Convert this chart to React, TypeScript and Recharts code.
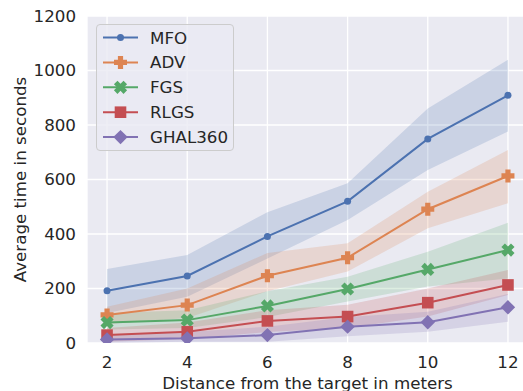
import React from 'react';
import { ComposedChart, Line, Area, XAxis, YAxis, CartesianGrid } from 'recharts';

const distances = [2, 4, 6, 8, 10, 12];
const xTicks = [2, 4, 6, 8, 10, 12];
const yTicks = [0, 200, 400, 600, 800, 1000, 1200];

const mfo = [192, 246, 391, 520, 749, 909];
const mfoLow = [110, 170, 310, 451, 635, 776];
const mfoHigh = [272, 323, 480, 586, 861, 1039];

const adv = [103, 139, 247, 313, 491, 613];
const advLow = [70, 92, 190, 262, 421, 513];
const advHigh = [133, 200, 330, 366, 555, 708];

const fgs = [75, 84, 136, 198, 270, 341];
const fgsLow = [50, 55, 95, 152, 207, 237];
const fgsHigh = [110, 120, 190, 243, 335, 441];

const rlgs = [29, 41, 81, 97, 148, 213];
const rlgsLow = [5, 15, 40, 55, 97, 176];
const rlgsHigh = [55, 75, 120, 140, 200, 268];

const ghal = [13, 17, 29, 60, 76, 131];
const ghalLow = [0, 5, 5, 25, 41, 78];
const ghalHigh = [30, 40, 60, 95, 115, 180];

const seriesDefs = [
  { key: 'MFO', values: mfo, low: mfoLow, high: mfoHigh, color: '#4c72b0', marker: 'circle' },
  { key: 'ADV', values: adv, low: advLow, high: advHigh, color: '#dd8452', marker: 'plus' },
  { key: 'FGS', values: fgs, low: fgsLow, high: fgsHigh, color: '#55a868', marker: 'x' },
  { key: 'RLGS', values: rlgs, low: rlgsLow, high: rlgsHigh, color: '#c44e52', marker: 'square' },
  { key: 'GHAL360', values: ghal, low: ghalLow, high: ghalHigh, color: '#8172b3', marker: 'diamond' },
];

const data = distances.map((d, i) => {
  const row: any = { x: d };
  seriesDefs.forEach((s) => {
    row[s.key] = s.values[i];
    row[s.key + '_band'] = [s.low[i], s.high[i]];
  });
  return row;
});

function markerShape(type: string, cx: number, cy: number, color: string, key?: any) {
  if (type === 'circle') {
    return <circle key={key} cx={cx} cy={cy} r={3.5} fill={color} />;
  }
  if (type === 'plus') {
    const a = 6.5, t = 2.6;
    const d = `M${cx - t},${cy - a}H${cx + t}V${cy - t}H${cx + a}V${cy + t}H${cx + t}V${cy + a}H${cx - t}V${cy + t}H${cx - a}V${cy - t}H${cx - t}Z`;
    return <path key={key} d={d} fill={color} />;
  }
  if (type === 'x') {
    const a = 6.8, t = 2.5;
    const pts = [
      [-t, -a], [t, -a], [t, -t], [a, -t], [a, t], [t, t], [t, a], [-t, a], [-t, t], [-a, t], [-a, -t], [-t, -t],
    ];
    const c = Math.cos(Math.PI / 4), s = Math.sin(Math.PI / 4);
    const d = pts
      .map(([px, py], i) => `${i === 0 ? 'M' : 'L'}${cx + px * c - py * s},${cy + px * s + py * c}`)
      .join('') + 'Z';
    return <path key={key} d={d} fill={color} />;
  }
  if (type === 'square') {
    const h = 5.8;
    return <rect key={key} x={cx - h} y={cy - h} width={2 * h} height={2 * h} fill={color} />;
  }
  const h = 7.2;
  const d = `M${cx},${cy - h}L${cx + h},${cy}L${cx},${cy + h}L${cx - h},${cy}Z`;
  return <path key={key} d={d} fill={color} />;
}

const font = '"DejaVu Sans", sans-serif';
const textColor = '#262626';
const fs = 16.7;

function LegendBox() {
  return (
    <div
      style={{
        position: 'absolute',
        left: 96,
        top: 24,
        width: 138,
        height: 127,
        boxSizing: 'border-box',
        border: '1px solid #cccccc',
        borderRadius: 4,
        background: 'rgba(234,234,242,0.8)',
      }}
    >
      <svg width={136} height={125} style={{ display: 'block' }}>
        {seriesDefs.map((s, i) => {
          const cy = 12.5 + i * 24.9;
          return (
            <g key={s.key}>
              <line x1={6} x2={41} y1={cy} y2={cy} stroke={s.color} strokeWidth={2} />
              {markerShape(s.marker, 23.5, cy, s.color)}
              <text x={53} y={cy} dy="0.36em" fontSize={fs} fontFamily={font} fill={textColor}>
                {s.key}
              </text>
            </g>
          );
        })}
      </svg>
    </div>
  );
}

export default function App() {
  return (
    <div
      style={{
        position: 'fixed',
        left: 0,
        top: 0,
        width: 523,
        height: 391,
        overflow: 'hidden',
        background: '#ffffff',
        fontFamily: font,
      }}
    >
      <ComposedChart width={535} height={391} data={data} margin={{ top: 16, right: 7, bottom: 0, left: 0 }}>
        <CartesianGrid fill="#eaeaf2" fillOpacity={1} stroke="#ffffff" strokeWidth={1.3} />
        <XAxis
          dataKey="x"
          type="number"
          domain={[1.5, 12.5]}
          ticks={xTicks}
          height={48}
          axisLine={false}
          tickLine={false}
          tickSize={11}
          tick={{ fontSize: fs, fontFamily: font, fill: textColor }}
          interval={0}
          allowDataOverflow
          label={{
            value: 'Distance from the target in meters',
            position: 'insideBottom',
            offset: 2.5,
            style: { fontSize: fs, fontFamily: font, fill: textColor },
          }}
        />
        <YAxis
          type="number"
          domain={[0, 1200]}
          ticks={yTicks}
          width={87}
          axisLine={false}
          tickLine={false}
          tickSize={9}
          interval={0}
          allowDataOverflow
          tick={{ fontSize: fs, fontFamily: font, fill: textColor }}
          label={{
            value: 'Average time in seconds',
            angle: -90,
            position: 'insideLeft',
            offset: 20,
            style: { fontSize: fs, fontFamily: font, fill: textColor, textAnchor: 'middle' },
          }}
        />
        {seriesDefs.map((s) => (
          <Area
            key={s.key + '_band'}
            dataKey={s.key + '_band'}
            type="linear"
            stroke="none"
            fill={s.color}
            fillOpacity={0.2}
            isAnimationActive={false}
            dot={false}
            activeDot={false}
            legendType="none"
          />
        ))}
        {seriesDefs.map((s) => (
          <Line
            key={s.key}
            dataKey={s.key}
            type="linear"
            stroke={s.color}
            strokeWidth={2}
            isAnimationActive={false}
            activeDot={false}
            dot={(p: any) => markerShape(s.marker, p.cx, p.cy, s.color, s.key + '_' + p.index)}
          />
        ))}
      </ComposedChart>
      <LegendBox />
    </div>
  );
}
